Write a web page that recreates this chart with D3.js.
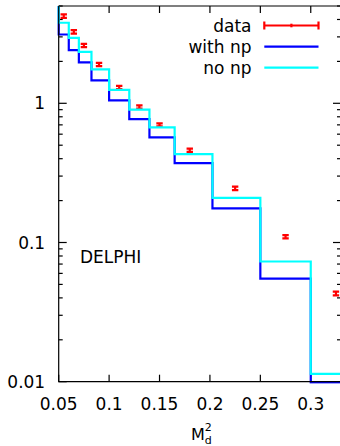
<!DOCTYPE html>
<html>
<head>
<meta charset="utf-8">
<script src="https://cdn.jsdelivr.net/npm/d3@7"></script>
<style>
  html, body { margin: 0; padding: 0; background: #fff; }
  svg { display: block; font-family: "DejaVu Sans", sans-serif; }
</style>
</head>
<body>
<svg id="chart" width="340" height="446"></svg>
<script>
// Heavy jet mass distribution: DELPHI data against predictions with / without non-perturbative corrections
const massBins   = [0.055, 0.065, 0.075, 0.09, 0.11, 0.13, 0.15, 0.18, 0.225, 0.275, 0.325];
const dataValues = [4.23, 3.26, 2.60, 1.90, 1.30, 0.94, 0.70, 0.46, 0.245, 0.110, 0.043];
const dataErrors = [0.12, 0.09, 0.07, 0.05, 0.035, 0.025, 0.018, 0.012, 0.007, 0.003, 0.0013];
const withNp     = [3.12, 2.41, 1.97, 1.46, 1.05, 0.77, 0.57, 0.372, 0.176, 0.055, 0.0099];
const noNp       = [3.79, 2.95, 2.34, 1.75, 1.25, 0.90, 0.672, 0.432, 0.209, 0.073, 0.0114];
const xTicks     = [0.05, 0.1, 0.15, 0.2, 0.25, 0.3];
const yTicks     = [0.01, 0.1, 1];
const seriesLabels = ["data", "with np", "no np"];

const svg = d3.select("#chart");
const pLeft = 58.7, pRight = 341, pTop = 6, pBottom = 381.7;

const x = d3.scaleLinear().domain([0.05, 0.33]).range([pLeft, pRight]);
const y = d3.scaleLog().domain([0.01, 5]).range([pBottom, pTop]);

const font = 17;

svg.append("defs").append("clipPath").attr("id", "plotclip")
  .append("rect")
  .attr("x", pLeft - 2).attr("y", pTop - 2)
  .attr("width", pRight - pLeft + 4).attr("height", pBottom - pTop + 4);

// minor ticks for the log axis
const minorTicks = [];
for (let dec = 0.01; dec < 10; dec *= 10) {
  for (let m = 2; m <= 9; m++) {
    const v = +(m * dec).toPrecision(3);
    if (v > y.domain()[0] && v <= y.domain()[1]) minorTicks.push(v);
  }
}

const axes = svg.append("g").attr("stroke", "#000").attr("stroke-width", 1.2);

// y ticks (inward, mirrored on the right)
yTicks.forEach(v => {
  axes.append("line").attr("x1", pLeft).attr("x2", pLeft + 8).attr("y1", y(v)).attr("y2", y(v));
  axes.append("line").attr("x1", pRight).attr("x2", pRight - 8).attr("y1", y(v)).attr("y2", y(v));
});
minorTicks.forEach(v => {
  axes.append("line").attr("x1", pLeft).attr("x2", pLeft + 4).attr("y1", y(v)).attr("y2", y(v));
  axes.append("line").attr("x1", pRight).attr("x2", pRight - 4).attr("y1", y(v)).attr("y2", y(v));
});
// x ticks (inward, mirrored on top)
xTicks.forEach(v => {
  axes.append("line").attr("x1", x(v)).attr("x2", x(v)).attr("y1", pBottom).attr("y2", pBottom - 7);
  axes.append("line").attr("x1", x(v)).attr("x2", x(v)).attr("y1", pTop).attr("y2", pTop + 7);
});

// tick labels
svg.append("g").selectAll("text").data(yTicks).join("text")
  .attr("x", pLeft - 13.5).attr("y", d => y(d)).attr("dy", "0.36em")
  .attr("text-anchor", "end").attr("font-size", font).attr("fill", "#000")
  .text(d => d3.format("~g")(d));

svg.append("g").selectAll("text").data(xTicks).join("text")
  .attr("x", d => x(d)).attr("y", 409.5)
  .attr("text-anchor", "middle").attr("font-size", font).attr("fill", "#000")
  .text(d => d3.format("~g")(d));

// histogram steps (edges halfway between neighbouring bin centres)
function stepPath(vals) {
  const n = massBins.length;
  const edges = [];
  edges.push(massBins[0] - (massBins[1] - massBins[0]) / 2);
  for (let i = 1; i < n; i++) edges.push((massBins[i - 1] + massBins[i]) / 2);
  edges.push(massBins[n - 1] + (massBins[n - 1] - massBins[n - 2]) / 2);
  const pts = [[x(edges[0]), y(y.domain()[1])]];
  vals.forEach((v, i) => {
    pts.push([x(edges[i]), y(v)]);
    pts.push([x(edges[i + 1]), y(v)]);
  });
  return d3.line()(pts);
}

const plot = svg.append("g").attr("clip-path", "url(#plotclip)");

// data points with error bars
const pts = plot.append("g").attr("stroke", "#ff0000").attr("stroke-width", 2.2);
massBins.forEach((m, i) => {
  const cx = x(m);
  const yHi = y(dataValues[i] + dataErrors[i]);
  const yLo = y(dataValues[i] - dataErrors[i]);
  pts.append("line").attr("x1", cx).attr("x2", cx).attr("y1", yHi).attr("y2", yLo);
  pts.append("line").attr("x1", cx - 3.2).attr("x2", cx + 3.2).attr("y1", yHi).attr("y2", yHi);
  pts.append("line").attr("x1", cx - 3.2).attr("x2", cx + 3.2).attr("y1", yLo).attr("y2", yLo);
});

plot.append("path").attr("d", stepPath(withNp))
  .attr("fill", "none").attr("stroke", "#0000ff").attr("stroke-width", 2.2);
plot.append("path").attr("d", stepPath(noNp))
  .attr("fill", "none").attr("stroke", "#00ffff").attr("stroke-width", 2.2);

// frame
svg.append("path")
  .attr("d", `M${pLeft},${pTop}H${pRight}M${pLeft},${pTop}V${pBottom}H${pRight}`)
  .attr("fill", "none").attr("stroke", "#000").attr("stroke-width", 1.2);

// legend
const legend = svg.append("g");
const legY = [25.5, 46.7, 67.7];
const sx1 = 264.3, sx2 = 318.5;
seriesLabels.forEach((lab, i) => {
  legend.append("text").attr("x", 251.5).attr("y", legY[i]).attr("dy", "0.36em")
    .attr("text-anchor", "end").attr("font-size", font).attr("fill", "#000").text(lab);
});
const ls = legend.append("g").attr("stroke", "#ff0000").attr("stroke-width", 2.2);
ls.append("line").attr("x1", sx1).attr("x2", sx2).attr("y1", legY[0]).attr("y2", legY[0]);
ls.append("line").attr("x1", sx1).attr("x2", sx1).attr("y1", legY[0] - 4).attr("y2", legY[0] + 4);
ls.append("line").attr("x1", sx2).attr("x2", sx2).attr("y1", legY[0] - 4).attr("y2", legY[0] + 4);
ls.append("line").attr("x1", (sx1 + sx2) / 2).attr("x2", (sx1 + sx2) / 2).attr("y1", legY[0] - 1.8).attr("y2", legY[0] + 1.8);
legend.append("line").attr("x1", sx1).attr("x2", sx2).attr("y1", legY[1]).attr("y2", legY[1])
  .attr("stroke", "#0000ff").attr("stroke-width", 2.2);
legend.append("line").attr("x1", sx1).attr("x2", sx2).attr("y1", legY[2]).attr("y2", legY[2])
  .attr("stroke", "#00ffff").attr("stroke-width", 2.2);

// experiment label
svg.append("text").attr("x", 80).attr("y", 263.3)
  .attr("font-size", font).attr("fill", "#000").text("DELPHI");

// x axis title: M_d^2, with stacked superscript and subscript
const xt = svg.append("text").attr("x", 191).attr("y", 440)
  .attr("font-size", 16).attr("fill", "#000");
xt.append("tspan").text("M");
xt.append("tspan").attr("font-size", 11).attr("dy", -9).text("2");
xt.append("tspan").attr("font-size", 11).attr("dx", -7).attr("dy", 13).text("d");
</script>
</body>
</html>
